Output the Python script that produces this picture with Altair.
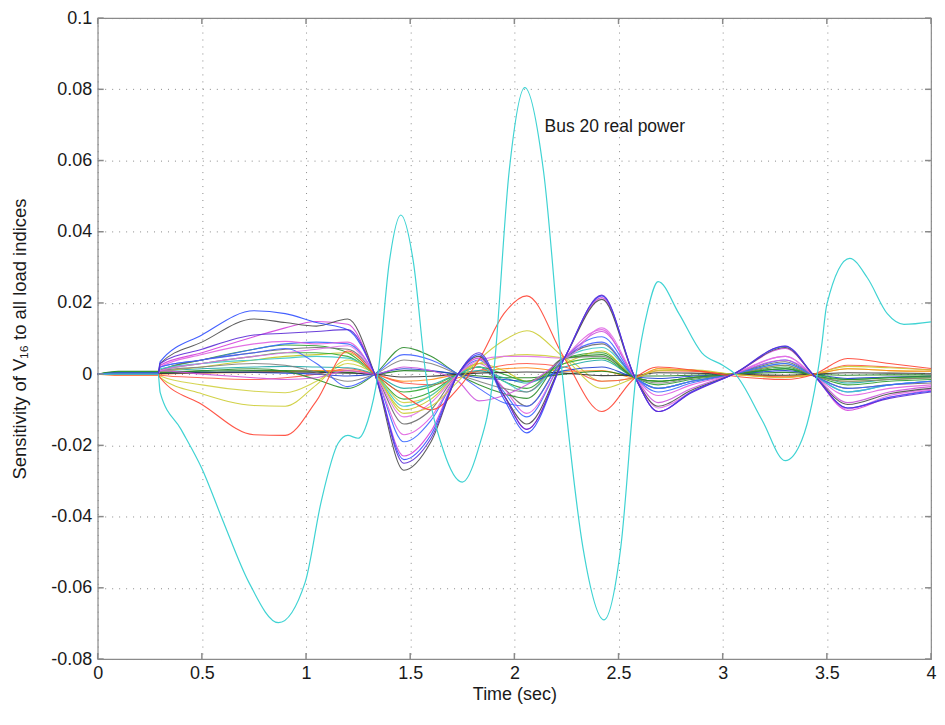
import altair as alt
import pandas as pd

# Shared time grid for the load-index sensitivity traces (sec)
T = [0, 0.1, 0.29, 0.3, 0.5, 0.75, 0.9, 1.05, 1.2, 1.33, 1.47, 1.6, 1.73, 1.83, 1.95,
     2.06, 2.24, 2.42, 2.58, 2.69, 2.85, 3.05, 3.3, 3.44, 3.6, 3.8, 4.0]

blue1 = [0, 0.0003, 0.0003, 0.0035, 0.011, 0.0178, 0.017, 0.0145, 0.0125, 0.0, -0.024, -0.017, 0.0, 0.0055, -0.007, -0.0165, 0.0045, 0.022, -0.001, -0.0105, -0.005, 0.0, 0.0078, -0.0005, -0.0095, -0.0065, -0.0048]
purple = [0, 0.0002, 0.0002, 0.003, 0.007, 0.011, 0.0115, 0.012, 0.0125, 0.0, -0.025, -0.018, 0.0, 0.006, -0.006, -0.0155, 0.0045, 0.0222, -0.001, -0.0105, -0.0052, 0.0, 0.0079, -0.0005, -0.0095, -0.0068, -0.005]
gray1 = [0, 0, 0, 0.003, 0.009, 0.0155, 0.0145, 0.0135, 0.0155, 0.0, -0.027, -0.019, 0.0, 0.005, -0.006, -0.014, 0.0045, 0.021, -0.001, -0.009, -0.0045, 0.0, 0.0075, -0.0005, -0.0085, -0.0055, -0.004]
magenta1 = [0, 0, 0, 0.0025, 0.006, 0.0105, 0.013, 0.0148, 0.014, 0.0, -0.023, -0.016, 0.0, 0.0045, -0.006, -0.0155, 0.0045, 0.0215, -0.001, -0.0105, -0.005, 0.0, 0.0072, -0.0005, -0.0102, -0.0065, -0.0045]
magenta2 = [0, 0, 0, 0.002, 0.0055, 0.0085, 0.0092, 0.0085, 0.009, 0.0, -0.017, -0.012, 0.0, 0.003, -0.004, -0.011, 0.0045, 0.0125, -0.001, -0.006, -0.003, 0.0, 0.005, -0.0005, -0.006, -0.004, -0.003]
blue2 = [0, 0.0003, 0.0003, 0.002, 0.004, 0.007, 0.0085, 0.009, 0.0085, 0.0, -0.019, -0.013, 0.0, 0.004, -0.005, -0.012, 0.0045, 0.0105, -0.001, -0.005, -0.0025, 0.0, 0.004, -0.0005, -0.005, -0.003, -0.002]
gray2 = [0, 0, 0, 0.001, 0.004, 0.006, 0.007, 0.0075, 0.007, 0.0, -0.014, -0.01, 0.0, 0.002, -0.004, -0.009, 0.0045, 0.0085, -0.001, -0.004, -0.002, 0.0, 0.0035, -0.0005, -0.004, -0.003, -0.0025]
red1 = [0, -0.0002, -0.0002, -0.001, -0.0085, -0.017, -0.0172, -0.0075, 0.0065, 0.0, -0.006, -0.01, -0.004, 0.004, 0.017, 0.022, 0.0045, -0.0105, -0.001, 0.002, 0.0012, -0.0005, -0.0015, 0.0, 0.0044, 0.003, 0.0016]
yellow1 = [0, 0, 0, -0.001, -0.0055, -0.0088, -0.009, -0.003, 0.004, 0.0, -0.011, -0.009, -0.002, 0.004, 0.0095, 0.0122, 0.0045, -0.004, -0.001, 0.001, 0.0012, 0.0, -0.001, 0.0, 0.0022, 0.0018, 0.0012]
yellow2 = [0, 0, 0, -0.0005, -0.003, -0.0048, -0.0052, -0.002, 0.003, 0.0, -0.008, -0.006, 0.0, 0.003, 0.005, 0.0055, 0.0045, -0.002, -0.001, 0.0015, 0.001, 0.0, -0.0005, 0.0, 0.0015, 0.001, 0.0008]
green1 = [0, 0.0007, 0.0007, 0.001, 0.004, 0.007, 0.0082, 0.008, 0.006, 0.0, -0.007, -0.005, 0.0, 0.002, -0.002, -0.004, 0.0045, 0.006, -0.001, -0.003, -0.0015, 0.0, 0.002, -0.0005, -0.003, -0.002, -0.0015]
green2 = [0, 0.0005, 0.0005, 0.0005, 0.001, 0.0015, 0.0008, -0.0015, -0.004, 0.0, 0.0075, 0.005, 0.0, -0.003, -0.0055, -0.0068, 0.0045, 0.0055, -0.001, -0.002, -0.001, 0.0, 0.0015, -0.0005, -0.0015, -0.001, -0.0005]
blue3 = [0, 0.0003, 0.0003, 0.002, 0.004, 0.006, 0.0072, 0.003, -0.0035, 0.0, 0.0055, 0.004, 0.0, -0.004, -0.008, -0.009, 0.0045, 0.009, -0.001, -0.004, -0.002, 0.0, 0.003, -0.0005, -0.004, -0.003, -0.002]
gray3 = [0, 0, 0, 0.001, 0.002, 0.003, 0.0025, 0.0005, -0.002, 0.0, 0.004, 0.003, 0.0, -0.002, -0.004, -0.005, 0.0045, 0.005, -0.001, -0.0025, -0.0012, 0.0, 0.0025, -0.0005, -0.002, -0.0015, -0.001]
magenta3 = [0, 0, 0, 0.001, 0.0, -0.001, -0.0015, -0.001, 0.001, 0.0, 0.002, 0.001, -0.002, -0.0075, -0.006, -0.003, 0.0045, 0.012, -0.001, -0.008, -0.004, 0.0, 0.004, -0.0005, -0.008, -0.005, -0.0035]
magenta4 = [0, 0, 0, 0.001, 0.003, 0.005, 0.006, 0.007, 0.008, 0.0, -0.012, -0.008, 0.0, 0.004, 0.005, 0.005, 0.0045, 0.013, -0.001, -0.0095, -0.005, 0.0, 0.005, -0.0005, -0.0098, -0.006, -0.0042]
cyan2 = [0, 0, 0, 0.0015, 0.003, 0.004, 0.0045, 0.005, 0.0045, 0.0, -0.009, -0.006, 0.0, 0.002, -0.002, -0.005, 0.0045, 0.0075, -0.001, -0.004, -0.002, 0.0, 0.003, -0.0005, -0.005, -0.003, -0.002]
orange = [0, -0.0003, -0.0003, 0.0, 0.0003, 0.0005, 0.0008, 0.001, 0.001, 0.0, -0.002, -0.0015, 0.0, 0.0008, 0.0015, 0.0018, 0.0008, 0.001, -0.001, 0.0015, 0.001, 0.0, -0.0008, 0.0, 0.0015, 0.001, 0.0008]
darkgreen = [0, 0.0008, 0.0008, 0.0006, 0.0008, 0.001, 0.001, 0.0008, 0.0005, 0.0, 0.001, 0.0008, 0.0, -0.0005, -0.001, -0.001, 0.0, 0.0008, -0.0005, -0.0005, -0.0003, 0.0, 0.0005, 0.0, -0.0003, -0.0002, -0.0002]
red2 = [0, 0, 0, -0.0003, -0.001, -0.0015, -0.001, 0.0, 0.0015, 0.0, -0.0025, -0.003, -0.001, 0.001, 0.0025, 0.003, 0.002, -0.002, -0.001, 0.001, 0.0008, 0.0, -0.0008, 0.0, 0.0025, 0.002, 0.0012]
teal = [0, 0.0002, 0.0002, 0.0008, 0.0015, 0.002, 0.0022, 0.002, 0.0018, 0.0, -0.004, -0.003, 0.0, 0.001, -0.001, -0.0025, 0.002, 0.004, -0.001, -0.002, -0.001, 0.0, 0.0015, 0.0, -0.0025, -0.0015, -0.001]
darkblue = [0, 0.0003, 0.0003, 0.0003, 0.0005, 0.0005, 0.0003, 0.0, -0.0005, 0.0, 0.0015, 0.001, 0.0, -0.001, -0.0015, -0.002, 0.001, 0.002, -0.0008, -0.0012, -0.0006, 0.0, 0.001, 0.0, -0.0012, -0.0008, -0.0006]
yellow3 = [0, 0, 0, 0.0005, 0.002, 0.004, 0.005, 0.0055, 0.006, 0.0, -0.01, -0.007, 0.0, 0.003, 0.001, -0.002, 0.003, 0.0065, -0.001, -0.002, -0.001, 0.0, 0.0025, -0.0005, -0.002, -0.0015, -0.001]
green3 = [0, 0.0006, 0.0006, 0.001, 0.003, 0.005, 0.006, 0.006, 0.005, 0.0, -0.005, -0.0035, 0.0, 0.002, 0.0, -0.002, 0.003, 0.0045, -0.001, -0.002, -0.001, 0.0, 0.0015, 0.0, -0.0015, -0.001, -0.0008]
black1 = [0, 0.0001, 0.0001, 0.0002, 0.0004, 0.0006, 0.0006, 0.0005, 0.0003, 0.0, -0.0008, -0.0006, 0.0, 0.0003, 0.0005, 0.0006, 0.0003, -0.0004, -0.0003, 0.0004, 0.0003, 0.0, -0.0003, 0.0, 0.0004, 0.0003, 0.0002]

# Bus 20 real power trace (own time samples)
bus20_t = [0, 0.1, 0.29, 0.3, 0.4, 0.5, 0.6, 0.725, 0.868, 0.996, 1.073, 1.154, 1.2, 1.25, 1.297,
           1.345, 1.40, 1.455, 1.515, 1.575, 1.66, 1.75, 1.825, 1.9, 1.975, 2.05, 2.14, 2.23, 2.33,
           2.43, 2.51, 2.585, 2.64, 2.69, 2.79, 2.9, 3.0, 3.06, 3.19, 3.3, 3.38, 3.475, 3.5, 3.61,
           3.695, 3.79, 3.87, 4.0]
bus20_v = [0, 0, 0, -0.0052, -0.0155, -0.0265, -0.041, -0.0584, -0.0698, -0.0584, -0.0357, -0.0194,
           -0.0172, -0.018, -0.013, 0.0, 0.0316, 0.0447, 0.0316, 0.0, -0.0215, -0.0303, -0.0214, 0.0,
           0.057, 0.0805, 0.057, 0.0, -0.049, -0.069, -0.049, 0.0, 0.018, 0.026, 0.017, 0.006, 0.0025,
           0.0, -0.013, -0.0243, -0.0185, 0.008, 0.0196, 0.0325, 0.027, 0.017, 0.014, 0.0147]

series_names = ["green1", "blue2", "gray2", "yellow2", "magenta2", "orange", "darkgreen", "red2",
                "teal", "darkblue", "yellow3", "green3", "black1", "cyan2", "gray3", "green2",
                "blue3", "magenta3", "magenta4", "yellow1", "red1", "magenta1", "gray1", "blue1", "purple"]
series_values = [green1, blue2, gray2, yellow2, magenta2, orange, darkgreen, red2,
                 teal, darkblue, yellow3, green3, black1, cyan2, gray3, green2,
                 blue3, magenta3, magenta4, yellow1, red1, magenta1, gray1, blue1, purple]
series_colors = ["#2e9e2e", "#3a6aff", "#6a6a6a", "#d0d040", "#e060e0", "#ff8c1a", "#1f7f1f", "#ff5a4a",
                 "#20a8a8", "#1f3fd0", "#c4c420", "#33aa33", "#333333", "#3cc8c8", "#808080", "#2a8c2a",
                 "#4060ff", "#cc55dd", "#e070e8", "#cccc33", "#ff4433", "#d43fdc", "#4d4d4d", "#2f4fff", "#5b2bd6"]

x_ticks = [0, 0.5, 1, 1.5, 2, 2.5, 3, 3.5, 4]
y_ticks = [-0.08, -0.06, -0.04, -0.02, 0, 0.02, 0.04, 0.06, 0.08, 0.1]

note_text = ["Bus 20 real power"]
note_t = [2.145]
note_v = [0.0695]

for v in series_values:
    assert len(v) == len(T)
assert len(bus20_t) == len(bus20_v)

rows = []
for name, vals in zip(series_names, series_values):
    for t, v in zip(T, vals):
        rows.append({"series": name, "t": t, "v": v})
df = pd.DataFrame(rows)
bus_df = pd.DataFrame({"t": bus20_t, "v": bus20_v})

FONT = "Liberation Sans"
W, H = 836, 643

xscale = alt.Scale(domain=[0, 4], nice=False, zero=False)
yscale = alt.Scale(domain=[-0.08, 0.1], nice=False, zero=False)

x_axis = alt.Axis(values=x_ticks, grid=True, gridDash=[1, 6], gridColor="#8a8a8a", gridWidth=1,
                  ticks=False, domain=False, labelFontSize=18, labelFont=FONT, labelColor="#1a1a1a",
                  labelPadding=6, labelFlush=False, labelExpr="toString(datum.value)",
                  title="Time (sec)", titleFont=FONT, titleFontSize=18, titleFontWeight="normal",
                  titleColor="#1a1a1a", titlePadding=3)
y_axis = alt.Axis(values=y_ticks, grid=True, gridDash=[1, 6], gridColor="#8a8a8a", gridWidth=1,
                  ticks=False, domain=False, labelFontSize=18, labelFont=FONT, labelColor="#1a1a1a",
                  labelPadding=6, labelFlush=False, labelExpr="toString(round(datum.value*100)/100)",
                  title="Sensitivity of V₁₆ to all load indices", titleFont=FONT, titleFontSize=18.5,
                  titleFontWeight="normal", titleColor="#1a1a1a", titlePadding=21)

lines = alt.Chart(df).mark_line(interpolate="monotone", strokeWidth=1.1, opacity=0.9).encode(
    x=alt.X("t:Q", scale=xscale, axis=x_axis),
    y=alt.Y("v:Q", scale=yscale, axis=y_axis),
    color=alt.Color("series:N", scale=alt.Scale(domain=series_names, range=series_colors), legend=None),
)

bus = alt.Chart(bus_df).mark_line(interpolate="monotone", strokeWidth=1.2, color="#3fd3d3").encode(
    x=alt.X("t:Q", scale=xscale), y=alt.Y("v:Q", scale=yscale)
)

note = alt.Chart(pd.DataFrame({"t": note_t, "v": note_v, "label": note_text})).mark_text(
    align="left", baseline="middle", font=FONT, fontSize=17.5, color="#1a1a1a"
).encode(x=alt.X("t:Q", scale=xscale), y=alt.Y("v:Q", scale=yscale), text="label:N")

ytick_df = pd.DataFrame({"v": y_ticks})
xtick_df = pd.DataFrame({"t": x_ticks})
tick_color = "#8a8a8a"
yt_left = alt.Chart(ytick_df).mark_rule(color=tick_color, strokeWidth=1.5).encode(
    y=alt.Y("v:Q", scale=yscale), x=alt.value(0), x2=alt.value(6))
yt_right = alt.Chart(ytick_df).mark_rule(color=tick_color, strokeWidth=1.5).encode(
    y=alt.Y("v:Q", scale=yscale), x=alt.value(W - 6), x2=alt.value(W))
xt_bottom = alt.Chart(xtick_df).mark_rule(color=tick_color, strokeWidth=1.5).encode(
    x=alt.X("t:Q", scale=xscale), y=alt.value(H - 6), y2=alt.value(H))
xt_top = alt.Chart(xtick_df).mark_rule(color=tick_color, strokeWidth=1.5).encode(
    x=alt.X("t:Q", scale=xscale), y=alt.value(0), y2=alt.value(6))

chart = alt.layer(lines, bus, note, yt_left, yt_right, xt_bottom, xt_top).properties(
    width=W, height=H,
    autosize=alt.AutoSizeParams(type="none"),
    padding={"left": 90, "top": 9, "right": 6, "bottom": 46},
    background="white",
).configure_view(stroke="#8a8a8a", strokeWidth=1.2)

chart.save("out.html", embed_options={"renderer": "svg", "actions": False})
